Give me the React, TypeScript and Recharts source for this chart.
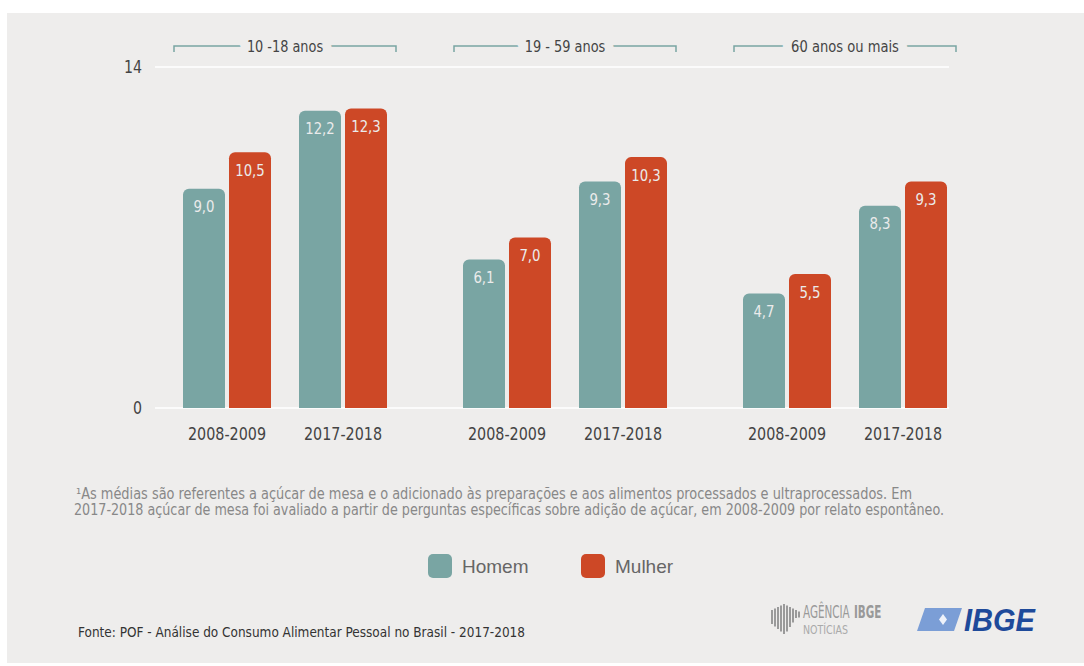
import React from 'react';
import { BarChart, Bar, XAxis, YAxis, CartesianGrid, LabelList } from 'recharts';

const ageGroups = ['10 -18 anos', '19 - 59 anos', '60 anos ou mais'];
const periods = ['2008-2009', '2017-2018'];
const homem2008 = [9.0, 6.1, 4.7];
const mulher2008 = [10.5, 7.0, 5.5];
const homem2017 = [12.2, 9.3, 8.3];
const mulher2017 = [12.3, 10.3, 9.3];
const yTicks = [0, 14];
const seriesNames = ['Homem', 'Mulher'];
const footnoteLines = [
  '¹As médias são referentes a açúcar de mesa e o adicionado às preparações e aos alimentos processados e ultraprocessados. Em',
  '2017-2018 açúcar de mesa foi avaliado a partir de perguntas específicas sobre adição de açúcar, em 2008-2009 por relato espontâneo.',
];
const sourceText = 'Fonte: POF - Análise do Consumo Alimentar Pessoal no Brasil - 2017-2018';

const data = ageGroups.map((g, i) => ({
  group: g,
  h08: homem2008[i],
  m08: mulher2008[i],
  h17: homem2017[i],
  m17: mulher2017[i],
}));

const TEAL = '#79a5a3';
const RED = '#cd4826';
const BG = '#eeedec';
const COND = "'DejaVu Sans Condensed', 'Liberation Sans Narrow', 'Roboto', sans-serif";
const SANS = "'Liberation Sans', Arial, sans-serif";

const fmt = (v: any) => (typeof v === 'number' ? v.toFixed(1).replace('.', ',') : '');
// approximate width of condensed text
const condWidth = (s: string, per: number) =>
  s.split('').reduce((a, c) => a + (c === ',' || c === ' ' || c === '-' ? per * 0.55 : per), 0);

const TopTick = (props: any) => {
  const { x, payload } = props;
  const half = 111;
  const y = 46;
  const s = String(payload.value);
  return (
    <g>
      <path d={`M${x - half},${y + 6} V${y} H${x + half} V${y + 6}`} stroke={TEAL} strokeWidth={1.5} fill="none" />
      <text
        x={x}
        y={y}
        dy="0.35em"
        textAnchor="middle"
        fontSize={16}
        fill="#444"
        fontFamily={COND}
        stroke={BG}
        strokeWidth={20}
        strokeLinejoin="round"
        style={{ paintOrder: 'stroke' }}
        textLength={condWidth(s, 7.9)}
        lengthAdjust="spacingAndGlyphs"
      >
        {s}
      </text>
    </g>
  );
};

const BottomTick = (props: any) => {
  const { x } = props;
  return (
    <g>
      {periods.map((p, i) => (
        <text
          key={p}
          x={x + (i === 0 ? -58 : 58)}
          y={434}
          dy="0.35em"
          textAnchor="middle"
          fontSize={17}
          fill="#444"
          fontFamily={COND}
          textLength={78}
          lengthAdjust="spacingAndGlyphs"
        >
          {p}
        </text>
      ))}
    </g>
  );
};

const LeftTick = (props: any) => {
  const { y, payload } = props;
  const s = String(payload.value);
  return (
    <text
      x={142}
      y={y}
      dy="0.35em"
      textAnchor="end"
      fontSize={17}
      fill="#444"
      fontFamily={COND}
      textLength={s.length * 9}
      lengthAdjust="spacingAndGlyphs"
    >
      {s}
    </text>
  );
};

const ValueLabel = (props: any) => {
  const { x, y, width, value } = props;
  const s = fmt(value);
  if (!s) return null;
  return (
    <text
      x={x + width / 2}
      y={y + 18}
      dy="0.35em"
      textAnchor="middle"
      fontSize={16}
      fill="#ebebeb"
      fontFamily={COND}
      textLength={condWidth(s, 8.3)}
      lengthAdjust="spacingAndGlyphs"
    >
      {s}
    </text>
  );
};

export default function App() {
  const colors = [TEAL, RED];
  return (
    <div style={{ position: 'absolute', left: 0, top: 0, width: 1084, height: 666, background: '#fff', overflow: 'hidden' }}>
      <div style={{ position: 'absolute', left: 7, top: 13, width: 1077, height: 650, background: BG }} />
      <div style={{ position: 'absolute', left: 0, top: 0 }}>
        <BarChart
          width={1084}
          height={666}
          data={data}
          margin={{ top: 37, right: 135, bottom: 218, left: 95 }}
          barGap={4}
        >
          <CartesianGrid vertical={false} stroke="#fbfbfb" strokeWidth={2} />
          <XAxis
            xAxisId="top"
            orientation="top"
            dataKey="group"
            height={30}
            axisLine={false}
            tickLine={false}
            tick={<TopTick />}
            interval={0}
            padding={{ left: -10, right: -36 }}
          />
          <XAxis
            dataKey="group"
            height={40}
            axisLine={false}
            tickLine={false}
            tick={<BottomTick />}
            interval={0}
            padding={{ left: -10, right: -36 }}
          />
          <YAxis
            domain={[0, 14]}
            ticks={yTicks}
            width={60}
            axisLine={false}
            tickLine={false}
            tick={<LeftTick />}
            interval={0}
          />
          <Bar dataKey="h08" name={seriesNames[0]} fill={TEAL} barSize={42} radius={[6, 6, 0, 0]} isAnimationActive={false}>
            <LabelList dataKey="h08" content={<ValueLabel />} />
          </Bar>
          <Bar dataKey="m08" name={seriesNames[1]} fill={RED} barSize={42} radius={[6, 6, 0, 0]} isAnimationActive={false}>
            <LabelList dataKey="m08" content={<ValueLabel />} />
          </Bar>
          <Bar dataKey="gap" fill="none" barSize={20} isAnimationActive={false} legendType="none" />
          <Bar dataKey="h17" name={seriesNames[0]} fill={TEAL} barSize={42} radius={[6, 6, 0, 0]} isAnimationActive={false}>
            <LabelList dataKey="h17" content={<ValueLabel />} />
          </Bar>
          <Bar dataKey="m17" name={seriesNames[1]} fill={RED} barSize={42} radius={[6, 6, 0, 0]} isAnimationActive={false}>
            <LabelList dataKey="m17" content={<ValueLabel />} />
          </Bar>
        </BarChart>
      </div>
      <svg width={1084} height={666} style={{ position: 'absolute', left: 0, top: 0, pointerEvents: 'none' }}>
        {footnoteLines.map((t, i) => (
          <text
            key={i}
            x={i === 0 ? 76 : 74}
            y={499 + i * 16}
            fontSize={15.5}
            fill="#888"
            fontFamily={COND}
            textLength={i === 0 ? 836 : 870}
            lengthAdjust="spacingAndGlyphs"
          >
            {t}
          </text>
        ))}
        {seriesNames.map((n, i) => (
          <g key={n}>
            <rect x={428 + i * 153} y={554} width={24} height={24} rx={5} fill={colors[i]} />
            <text x={462 + i * 153} y={566} dy="0.35em" fontSize={19} fill="#666" fontFamily={SANS}>
              {n}
            </text>
          </g>
        ))}
        <text x={78} y={637} fontSize={14} fill="#333" fontFamily={COND} textLength={447} lengthAdjust="spacingAndGlyphs">
          {sourceText}
        </text>
        <g fill="#9a9a9a">
          {[0, 3, 6, 9, 12, 15, 18, 21, 24, 27].map((dx, k) => (
            <rect key={k} x={771 + dx} y={604 + Math.abs(k - 4) * 1.5} width={2} height={[14, 18, 22, 26, 30, 26, 20, 14, 8, 6][k]} />
          ))}
        </g>
        <g transform="translate(803,618) scale(0.68,1)">
          <text x={0} y={0} fontSize={17} fill="#999" fontFamily={COND}>
            AGÊNCIA
          </text>
          <text x={75} y={0} fontSize={17} fontWeight="bold" fill="#999" fontFamily={COND}>
            IBGE
          </text>
        </g>
        <text x={803} y={634} fontSize={12} fill="#aaa" fontFamily={COND} textLength={45} lengthAdjust="spacingAndGlyphs">
          NOTÍCIAS
        </text>
        <path d="M925,608 L962,608 L954,631 L917,631 Z" fill="#7b9ed6" />
        <path d="M939,619.5 L943,614 L947,619.5 L943,625 Z" fill="#eef2fa" />
        <text x={964} y={631} fontSize={31} fontStyle="italic" fontWeight="bold" fill="#1e4a9a" fontFamily={SANS} textLength={71} lengthAdjust="spacingAndGlyphs">
          IBGE
        </text>
      </svg>
    </div>
  );
}
